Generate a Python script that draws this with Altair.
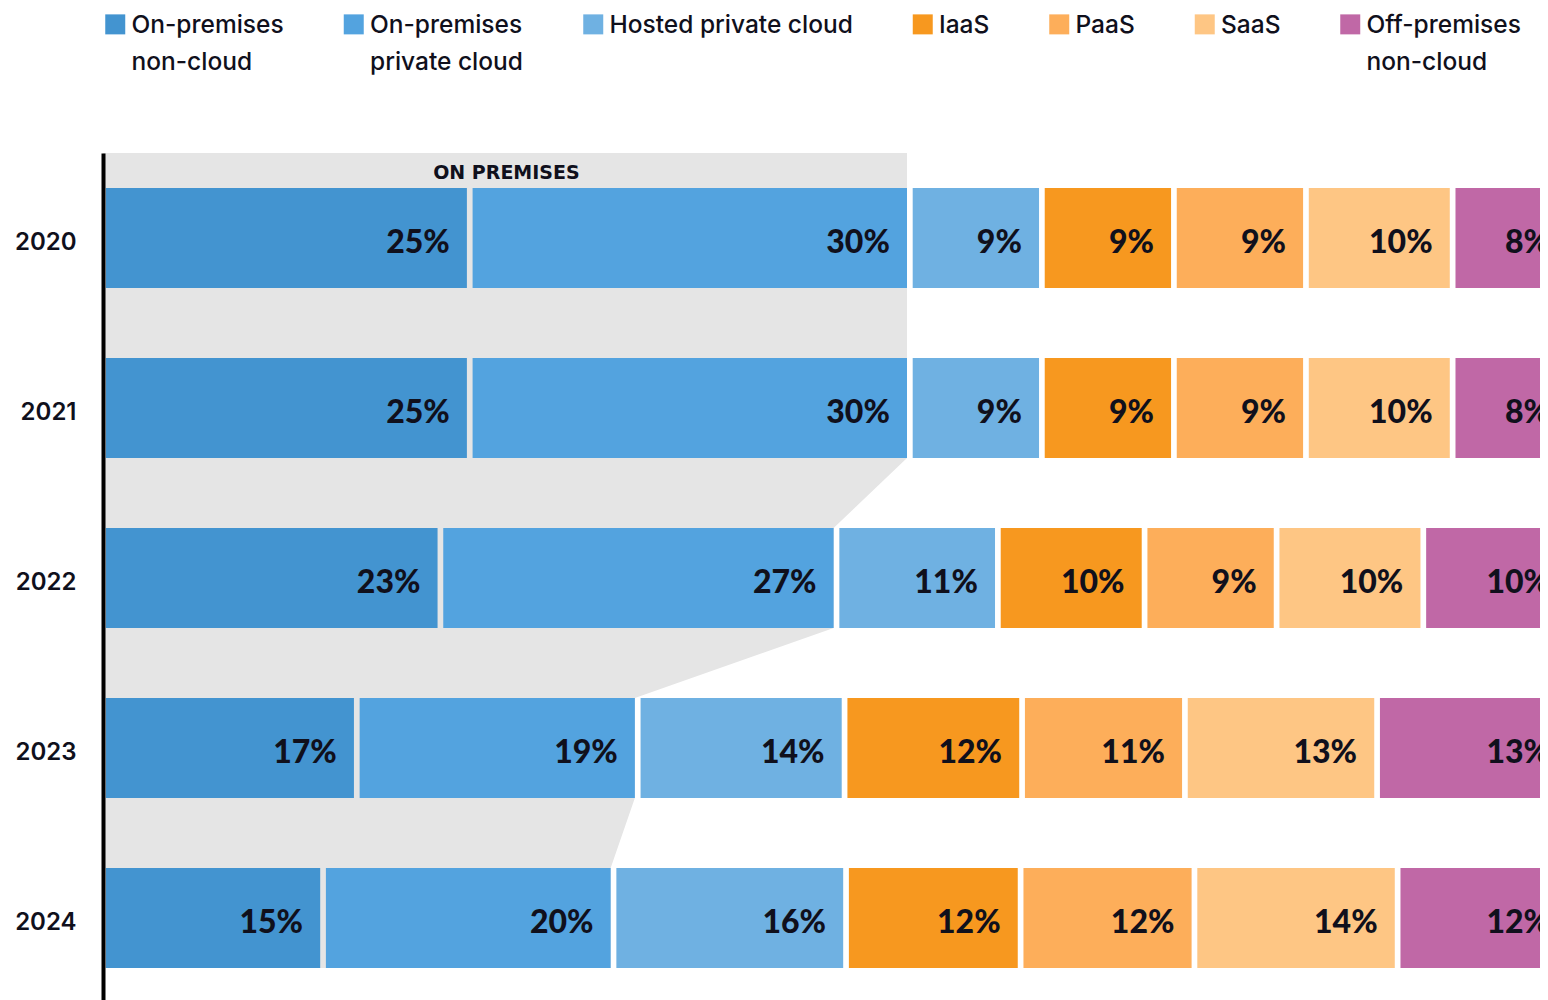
import json
import altair as alt
import pandas as pd

# ---------------- data ----------------
years = ["2020", "2021", "2022", "2023", "2024"]
categories = [
    "On-premises non-cloud",
    "On-premises private cloud",
    "Hosted private cloud",
    "IaaS",
    "PaaS",
    "SaaS",
    "Off-premises non-cloud",
]
legend_lines = [
    ["On-premises", "non-cloud"],
    ["On-premises", "private cloud"],
    ["Hosted private cloud", ""],
    ["IaaS", ""],
    ["PaaS", ""],
    ["SaaS", ""],
    ["Off-premises", "non-cloud"],
]
colors = ["#4394d0", "#53a3df", "#6fb1e2", "#f7981f", "#fdae5a", "#fec684", "#c068a6"]

on_prem_non_cloud = [25, 25, 23, 17.3, 15.0]
on_prem_private_cloud = [30, 30, 27, 19.15, 19.8]
hosted_private_cloud = [9, 9, 11, 14.1, 15.85]
iaas = [9, 9, 10, 12.1, 11.9]
paas = [9, 9, 9, 11.1, 11.85]
saas = [10, 10, 10, 13.1, 13.85]
off_prem_non_cloud = [8, 8, 10, 13.15, 11.75]
series = [on_prem_non_cloud, on_prem_private_cloud, hosted_private_cloud,
          iaas, paas, saas, off_prem_non_cloud]

on_premises_label = "ON PREMISES"

# ---------------- layout ----------------
STEP = 170          # px per year row
BAR_PX = 100        # bar thickness
HALF = BAR_PX / 2 / STEP
PAD_LEFT = 95
WIDTH = 1532 - PAD_LEFT
HEIGHT = STEP * len(years)
PX_PER_PCT = 14.67
X_MAX = WIDTH / PX_PER_PCT   # visible part of the 0-100 % axis (chart is cut at the right)
GAP = 2.85

rows = []
for yi, yr in enumerate(years):
    for ci, cat in enumerate(categories):
        rows.append({"year": yr, "yi": yi, "category": cat, "order": ci,
                     "value": series[ci][yi]})
df = pd.DataFrame(rows)

totals = [a + b for a, b in zip(on_prem_non_cloud, on_prem_private_cloud)]
area_pos, area_x = [-0.5], [totals[0]]
for i, t in enumerate(totals):
    area_pos += [i - HALF, i + HALF]
    area_x += [t, t]
area_df = pd.DataFrame({"pos": area_pos, "tot": area_x})

label_df = pd.DataFrame({"x": [totals[0] / 2], "pos": [-0.5], "text": [on_premises_label]})

xscale = alt.Scale(domain=[0, X_MAX], nice=False, zero=True)
yscale = alt.Scale(domain=[-0.5, len(years) - 0.5], reverse=True, nice=False, zero=False)
yaxis = alt.Axis(
    title=None, values=list(range(len(years))),
    labelExpr=f"{json.dumps(years)}[datum.value]",
    ticks=False, tickSize=0, grid=False,
    domainColor="#000000", domainWidth=4,
    labelFont="Inter", labelFontSize=24, labelFontWeight=600,
    labelColor="#10101c", labelPadding=27, labelOffset=4, zindex=1,
)

legend_expr = f"{json.dumps(legend_lines)}[indexof({json.dumps(categories)}, datum.label)]"

area = alt.Chart(area_df).mark_area(orient="horizontal", color="#e5e5e5", xOffset=-GAP, clip=True).encode(
    y=alt.Y("pos:Q", scale=yscale, axis=yaxis),
    x=alt.X("tot:Q", scale=xscale, axis=None),
)

base = alt.Chart(df).transform_stack(
    stack="value", groupby=["year"], as_=["v0", "v1"],
    sort=[alt.SortField("order", "ascending")],
).transform_calculate(
    y0=f"datum.yi - {HALF}",
    y1=f"datum.yi + {HALF}",
    label="format(datum.value, '.0f') + '%'",
)

bars = base.mark_rect(xOffset=GAP, x2Offset=-GAP, clip=True).encode(
    x=alt.X("v0:Q", scale=xscale, axis=None),
    x2="v1:Q",
    y=alt.Y("y0:Q", scale=yscale, axis=yaxis),
    y2="y1:Q",
    color=alt.Color(
        "category:N",
        scale=alt.Scale(domain=categories, range=colors),
        legend=alt.Legend(
            orient="none", legendX=0, legendY=-151, direction="horizontal",
            columns=len(categories), title=None, padding=0,
            symbolType="M-1,0H1V2H-1Z", symbolSize=400, symbolStrokeWidth=0,
            symbolOpacity=1, labelOffset=4, columnPadding=57.5,
            labelFont="Inter", labelFontSize=24.5, labelFontWeight=500,
            labelColor="#10101c", labelBaseline="top", labelLimit=0,
            labelExpr=legend_expr,
        ),
    ),
)

texts = base.mark_text(
    align="right", baseline="alphabetic", dx=-20, dy=15,
    font="Lato", fontSize=32, fontWeight=900, color="#10101c", clip=True,
).encode(
    x=alt.X("v1:Q", scale=xscale, axis=None),
    y=alt.Y("yi:Q", scale=yscale, axis=yaxis),
    text="label:N",
)

onprem = alt.Chart(label_df).mark_text(
    align="center", baseline="alphabetic", dy=26,
    font="DejaVu Sans", fontSize=19, fontWeight="bold", color="#10101c",
).encode(
    x=alt.X("x:Q", scale=xscale, axis=None),
    y=alt.Y("pos:Q", scale=yscale, axis=yaxis),
    text="text:N",
)

chart = alt.layer(area, bars, texts, onprem).properties(
    width=WIDTH, height=HEIGHT,
    padding={"left": PAD_LEFT, "top": 145, "right": 0, "bottom": 0},
    autosize=alt.AutoSizeParams(type="none"),
    background="white",
).configure(
    view=alt.ViewConfig(stroke=None),
    style={"guide-label": {"lineHeight": 37}},
)

chart.save("out.html", embed_options={"renderer": "svg", "actions": False})
